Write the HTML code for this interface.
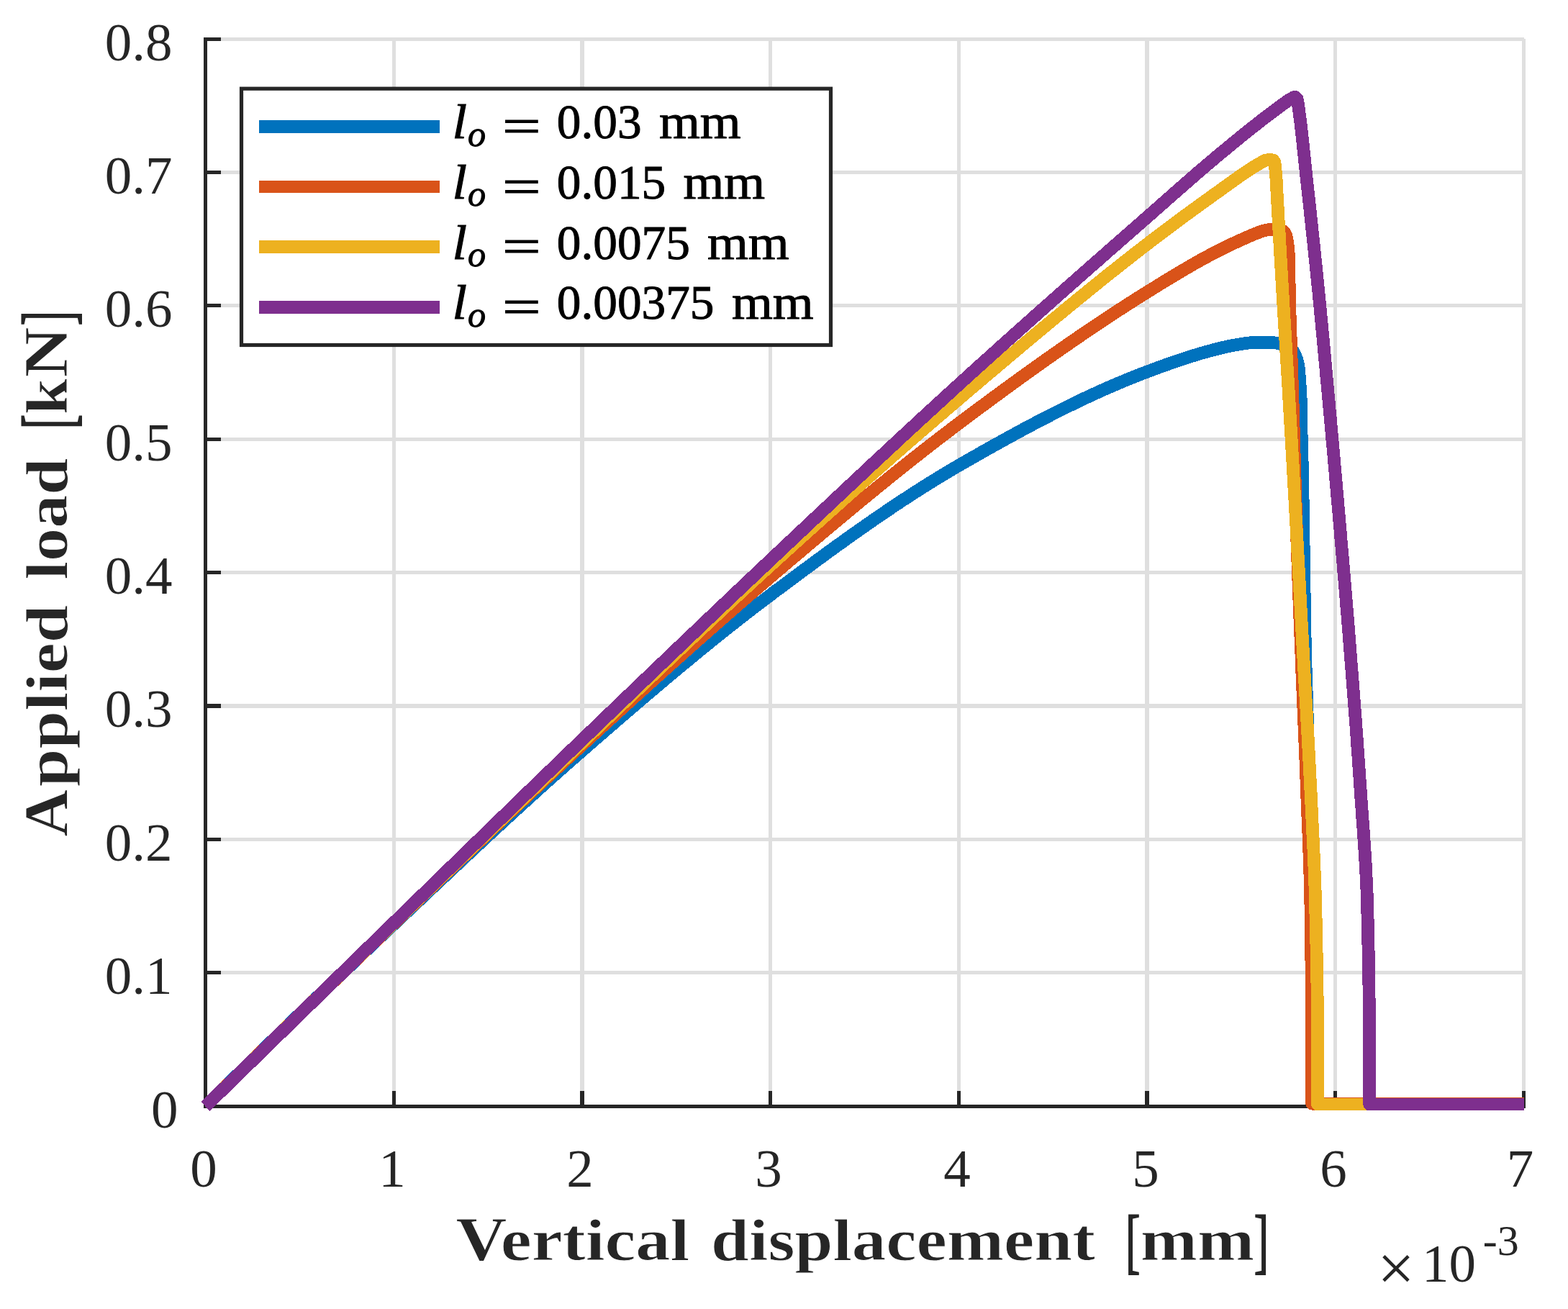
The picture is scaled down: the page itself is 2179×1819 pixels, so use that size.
<!DOCTYPE html>
<html lang="en"><head><meta charset="utf-8"><title>Applied load vs vertical displacement</title>
<style>html,body{margin:0;padding:0;background:#fff}body{width:2179px;height:1819px;overflow:hidden}svg{display:block}text{font-family:"Liberation Serif","DejaVu Serif",serif;fill:#262626;white-space:pre}.tk{font-size:75px}.lb{font-size:83.5px;font-weight:bold;stroke:#fff;stroke-width:.9px}.cap{font-size:87px}.br{font-size:98.6px;font-weight:normal;stroke:#262626;stroke-width:2px}.lg{font-size:67.3px;fill:#000;stroke:#000;stroke-width:1px}.it{font-style:italic}.sub{font-size:50px}.mul{font-size:92px}.sup{font-size:60px}</style></head><body>
<svg width="2179" height="1819" viewBox="0 0 2179 1819" role="img" aria-label="Applied load versus vertical displacement">
<rect width="2179" height="1819" fill="#fff"/>
<g fill="#dfdfdf" shape-rendering="crispEdges">
<rect x="545" y="54" width="5" height="1483"/>
<rect x="806" y="54" width="6" height="1483"/>
<rect x="1068" y="54" width="5" height="1483"/>
<rect x="1330" y="54" width="5" height="1483"/>
<rect x="1591" y="54" width="6" height="1483"/>
<rect x="1853" y="54" width="5" height="1483"/>
<rect x="2115" y="54" width="5" height="1483"/>
<rect x="286" y="1349" width="1832" height="5"/>
<rect x="286" y="1164" width="1832" height="5"/>
<rect x="286" y="978" width="1832" height="6"/>
<rect x="286" y="793" width="1832" height="5"/>
<rect x="286" y="608" width="1832" height="5"/>
<rect x="286" y="422" width="1832" height="5"/>
<rect x="286" y="237" width="1832" height="5"/>
<rect x="286" y="52" width="1832" height="5"/>
</g>
<g fill="#262626" shape-rendering="crispEdges">
<rect x="283" y="52" width="5" height="1488"/>
<rect x="283" y="1535" width="1837" height="5"/>
<rect x="545" y="1516" width="5" height="24"/>
<rect x="806" y="1516" width="6" height="24"/>
<rect x="1068" y="1516" width="5" height="24"/>
<rect x="1330" y="1516" width="5" height="24"/>
<rect x="1591" y="1516" width="6" height="24"/>
<rect x="1853" y="1516" width="5" height="24"/>
<rect x="2115" y="1516" width="5" height="24"/>
<rect x="283" y="1349" width="24" height="5"/>
<rect x="283" y="1164" width="24" height="5"/>
<rect x="283" y="978" width="24" height="6"/>
<rect x="283" y="793" width="24" height="5"/>
<rect x="283" y="608" width="24" height="5"/>
<rect x="283" y="422" width="24" height="5"/>
<rect x="283" y="237" width="24" height="5"/>
<rect x="283" y="52" width="24" height="5"/>
</g>
<g fill="none" stroke-width="17.8" stroke-linejoin="round" stroke-linecap="butt" shape-rendering="crispEdges">
<path stroke="#0072bd" d="M285.5 1537.5L289.5 1533.5L293.5 1529.6L297.5 1525.6L301.5 1521.7L305.5 1517.7L309.5 1513.8L313.5 1509.8L317.5 1505.9L321.5 1502.0L325.5 1498.0L329.5 1494.1L333.5 1490.2L337.5 1486.2L341.5 1482.3L345.5 1478.4L349.5 1474.5L353.5 1470.5L357.5 1466.6L361.5 1462.7L365.5 1458.8L369.5 1454.9L373.5 1451.0L377.5 1447.1L381.5 1443.2L385.5 1439.3L389.5 1435.4L393.5 1431.5L397.5 1427.6L401.5 1423.8L405.5 1419.9L409.5 1416.0L413.5 1412.1L417.5 1408.3L421.5 1404.4L425.5 1400.5L429.5 1396.7L433.5 1392.8L437.5 1388.9L441.5 1385.1L445.5 1381.2L449.5 1377.4L453.5 1373.5L457.5 1369.7L461.5 1365.9L465.5 1362.0L469.5 1358.2L473.5 1354.4L477.5 1350.5L481.5 1346.7L485.5 1342.9L489.5 1339.1L493.5 1335.2L497.5 1331.4L501.5 1327.6L505.5 1323.8L509.5 1320.0L513.5 1316.2L517.5 1312.4L521.5 1308.6L525.5 1304.8L529.5 1301.0L533.5 1297.2L537.5 1293.4L541.5 1289.7L545.5 1285.9L549.5 1282.1L553.5 1278.3L557.5 1274.6L561.5 1270.8L565.5 1267.0L569.5 1263.2L573.5 1259.4L577.5 1255.7L581.5 1251.9L585.5 1248.1L589.5 1244.3L593.5 1240.6L597.5 1236.8L601.5 1233.0L605.5 1229.3L609.5 1225.5L613.5 1221.7L617.5 1218.0L621.5 1214.2L625.5 1210.4L629.5 1206.7L633.5 1202.9L637.5 1199.2L641.5 1195.4L645.5 1191.7L649.5 1187.9L653.5 1184.2L657.5 1180.5L661.5 1176.7L665.5 1173.0L669.5 1169.3L673.5 1165.5L677.5 1161.8L681.5 1158.1L685.5 1154.4L689.5 1150.7L693.5 1147.0L697.5 1143.3L701.5 1139.6L705.5 1135.9L709.5 1132.3L713.5 1128.6L717.5 1124.9L721.5 1121.3L725.5 1117.6L729.5 1114.0L733.5 1110.3L737.5 1106.7L741.5 1103.1L745.5 1099.4L749.5 1095.8L753.5 1092.2L757.5 1088.6L761.5 1085.0L765.5 1081.4L769.5 1077.9L773.5 1074.3L777.5 1070.7L781.5 1067.2L785.5 1063.6L789.5 1060.1L793.5 1056.6L797.5 1053.1L801.5 1049.6L805.5 1046.1L809.5 1042.6L813.5 1039.1L817.5 1035.6L821.5 1032.1L825.5 1028.6L829.5 1025.2L833.5 1021.7L837.5 1018.2L841.5 1014.8L845.5 1011.3L849.5 1007.8L853.5 1004.4L857.5 1000.9L861.5 997.5L865.5 994.0L869.5 990.6L873.5 987.1L877.5 983.7L881.5 980.3L885.5 976.9L889.5 973.4L893.5 970.0L897.5 966.6L901.5 963.2L905.5 959.8L909.5 956.4L913.5 953.0L917.5 949.7L921.5 946.3L925.5 942.9L929.5 939.6L933.5 936.2L937.5 932.9L941.5 929.5L945.5 926.2L949.5 922.9L953.5 919.6L957.5 916.3L961.5 913.0L965.5 909.7L969.5 906.4L973.5 903.1L977.5 899.9L981.5 896.6L985.5 893.4L989.5 890.1L993.5 886.9L997.5 883.7L1001.5 880.5L1005.5 877.3L1009.5 874.1L1013.5 870.9L1017.5 867.8L1021.5 864.6L1025.5 861.5L1029.5 858.3L1033.5 855.2L1037.5 852.1L1041.5 849.0L1045.5 845.9L1049.5 842.8L1053.5 839.8L1057.5 836.7L1061.5 833.7L1065.5 830.7L1069.5 827.7L1073.5 824.6L1077.5 821.6L1081.5 818.7L1085.5 815.7L1089.5 812.7L1093.5 809.7L1097.5 806.7L1101.5 803.7L1105.5 800.7L1109.5 797.8L1113.5 794.8L1117.5 791.8L1121.5 788.9L1125.5 785.9L1129.5 783.0L1133.5 780.0L1137.5 777.1L1141.5 774.2L1145.5 771.2L1149.5 768.3L1153.5 765.4L1157.5 762.5L1161.5 759.6L1165.5 756.7L1169.5 753.9L1173.5 751.0L1177.5 748.1L1181.5 745.3L1185.5 742.4L1189.5 739.6L1193.5 736.8L1197.5 734.0L1201.5 731.2L1205.5 728.4L1209.5 725.6L1213.5 722.8L1217.5 720.1L1221.5 717.3L1225.5 714.6L1229.5 711.9L1233.5 709.2L1237.5 706.5L1241.5 703.8L1245.5 701.1L1249.5 698.5L1253.5 695.8L1257.5 693.2L1261.5 690.6L1265.5 688.0L1269.5 685.4L1273.5 682.8L1277.5 680.3L1281.5 677.7L1285.5 675.2L1289.5 672.7L1293.5 670.2L1297.5 667.7L1301.5 665.3L1305.5 662.8L1309.5 660.4L1313.5 658.0L1317.5 655.6L1321.5 653.2L1325.5 650.9L1329.5 648.5L1333.5 646.2L1337.5 643.9L1341.5 641.6L1345.5 639.3L1349.5 637.0L1353.5 634.7L1357.5 632.5L1361.5 630.2L1365.5 627.9L1369.5 625.7L1373.5 623.4L1377.5 621.2L1381.5 618.9L1385.5 616.7L1389.5 614.5L1393.5 612.3L1397.5 610.0L1401.5 607.9L1405.5 605.7L1409.5 603.5L1413.5 601.3L1417.5 599.1L1421.5 597.0L1425.5 594.8L1429.5 592.7L1433.5 590.6L1437.5 588.5L1441.5 586.4L1445.5 584.3L1449.5 582.2L1453.5 580.1L1457.5 578.1L1461.5 576.0L1465.5 574.0L1469.5 572.0L1473.5 570.0L1477.5 568.0L1481.5 566.0L1485.5 564.0L1489.5 562.1L1493.5 560.1L1497.5 558.2L1501.5 556.3L1505.5 554.4L1509.5 552.5L1513.5 550.7L1517.5 548.8L1521.5 547.0L1525.5 545.1L1529.5 543.3L1533.5 541.5L1537.5 539.8L1541.5 538.0L1545.5 536.3L1549.5 534.6L1553.5 532.8L1557.5 531.2L1561.5 529.5L1565.5 527.8L1569.5 526.2L1573.5 524.6L1577.5 523.0L1581.5 521.4L1585.5 519.8L1589.5 518.3L1593.5 516.8L1597.5 515.3L1601.5 513.8L1605.5 512.3L1609.5 510.8L1613.5 509.4L1617.5 507.9L1621.5 506.5L1625.5 505.1L1629.5 503.7L1633.5 502.3L1637.5 501.0L1641.5 499.6L1645.5 498.3L1649.5 497.0L1653.5 495.7L1657.5 494.5L1661.5 493.2L1665.5 492.0L1669.5 490.8L1673.5 489.7L1677.5 488.6L1681.5 487.5L1685.5 486.4L1689.5 485.4L1693.5 484.4L1697.5 483.4L1701.5 482.5L1705.5 481.6L1709.5 480.7L1713.5 479.9L1717.5 479.2L1721.5 478.6L1725.5 477.9L1729.5 477.3L1733.5 476.7L1737.5 476.3L1741.5 476.2L1745.5 476.2L1749.5 476.1L1753.5 476.1L1757.5 476.1L1761.5 476.1L1765.5 476.1L1769.5 476.1L1773.5 476.6L1777.5 477.4L1781.5 478.3L1785.5 479.6L1789.5 481.3L1793.5 484.3L1797.0 488.0L1799.2 492.0L1802.4 500.0L1804.3 508.0L1805.2 516.0L1805.8 524.0L1806.4 532.0L1807.0 540.0L1807.4 548.0L1807.7 556.0L1807.9 564.0L1808.1 572.0L1808.2 580.0L1808.3 588.0L1808.4 596.0L1808.6 604.0L1808.8 612.0L1809.0 620.0L1809.2 628.0L1809.4 636.0L1809.7 644.0L1809.9 652.0L1810.0 660.0L1810.2 668.0L1810.3 676.0L1810.4 684.0L1810.6 692.0L1810.7 700.0L1810.8 708.0L1810.9 716.0L1811.1 724.0L1811.2 732.0L1811.3 740.0L1811.4 748.0L1811.6 756.0L1811.7 764.0L1811.8 772.0L1811.9 780.0L1812.0 788.0L1812.2 796.0L1812.3 804.0L1812.4 812.0L1812.5 820.0L1812.7 828.0L1812.8 836.0L1812.9 844.0L1813.0 852.0L1813.2 860.0L1813.3 868.0L1813.4 876.0L1813.6 884.0L1813.7 892.0L1813.9 900.0L1814.1 908.0L1814.3 916.0L1814.5 924.0L1814.7 932.0L1815.0 940.0L1815.2 948.0L1815.5 956.0L1815.7 964.0L1816.0 972.0L1816.3 980.0L1816.5 988.0L1816.8 996.0L1817.0 1004.0L1817.2 1012.0L1817.5 1020.0L1817.7 1028.0L1817.9 1036.0L1818.1 1044.0L1818.3 1052.0L1818.6 1060.0L1818.8 1068.0L1819.0 1076.0L1819.2 1084.0L1819.4 1092.0L1819.6 1100.0L1819.8 1108.0L1820.1 1116.0L1820.3 1124.0L1820.5 1132.0L1820.7 1140.0L1820.8 1148.0L1821.0 1156.0L1821.2 1164.0L1821.4 1172.0L1821.6 1180.0L1821.8 1188.0L1821.9 1196.0L1822.1 1204.0L1822.2 1212.0L1822.4 1220.0L1822.6 1228.0L1822.7 1236.0L1822.9 1244.0L1823.1 1252.0L1823.2 1260.0L1823.4 1268.0L1823.5 1276.0L1823.7 1284.0L1823.9 1292.0L1824.0 1300.0L1824.2 1308.0L1824.3 1316.0L1824.5 1324.0L1824.6 1332.0L1824.7 1340.0L1824.9 1348.0L1825.0 1356.0L1825.1 1364.0L1825.2 1372.0L1825.4 1380.0L1825.5 1388.0L1825.6 1396.0L1825.7 1404.0L1825.7 1412.0L1825.8 1420.0L1825.9 1428.0L1826.0 1436.0L1826.0 1444.0L1826.1 1452.0L1826.1 1460.0L1826.2 1468.0L1826.2 1476.0L1826.3 1484.0L1826.3 1492.0L1826.4 1500.0L1826.4 1508.0L1826.4 1516.0L1826.5 1524.0L1826.5 1532.0L1826.5 1534.5L1900.0 1534.5"/>
<path stroke="#d95319" d="M285.5 1537.5L289.5 1533.6L293.5 1529.6L297.5 1525.7L301.5 1521.8L305.5 1517.9L309.5 1513.9L313.5 1510.0L317.5 1506.1L321.5 1502.2L325.5 1498.2L329.5 1494.3L333.5 1490.4L337.5 1486.5L341.5 1482.6L345.5 1478.7L349.5 1474.8L353.5 1470.9L357.5 1466.9L361.5 1463.0L365.5 1459.1L369.5 1455.2L373.5 1451.3L377.5 1447.4L381.5 1443.5L385.5 1439.6L389.5 1435.7L393.5 1431.8L397.5 1428.0L401.5 1424.1L405.5 1420.2L409.5 1416.3L413.5 1412.4L417.5 1408.5L421.5 1404.6L425.5 1400.7L429.5 1396.9L433.5 1393.0L437.5 1389.1L441.5 1385.2L445.5 1381.3L449.5 1377.5L453.5 1373.6L457.5 1369.7L461.5 1365.9L465.5 1362.0L469.5 1358.1L473.5 1354.3L477.5 1350.4L481.5 1346.5L485.5 1342.7L489.5 1338.8L493.5 1334.9L497.5 1331.1L501.5 1327.2L505.5 1323.4L509.5 1319.5L513.5 1315.7L517.5 1311.8L521.5 1308.0L525.5 1304.1L529.5 1300.3L533.5 1296.4L537.5 1292.6L541.5 1288.8L545.5 1284.9L549.5 1281.1L553.5 1277.2L557.5 1273.4L561.5 1269.6L565.5 1265.7L569.5 1261.9L573.5 1258.0L577.5 1254.2L581.5 1250.4L585.5 1246.5L589.5 1242.7L593.5 1238.8L597.5 1235.0L601.5 1231.2L605.5 1227.3L609.5 1223.5L613.5 1219.6L617.5 1215.8L621.5 1212.0L625.5 1208.1L629.5 1204.3L633.5 1200.5L637.5 1196.6L641.5 1192.8L645.5 1189.0L649.5 1185.2L653.5 1181.3L657.5 1177.5L661.5 1173.7L665.5 1169.9L669.5 1166.1L673.5 1162.3L677.5 1158.4L681.5 1154.6L685.5 1150.8L689.5 1147.0L693.5 1143.2L697.5 1139.4L701.5 1135.6L705.5 1131.8L709.5 1128.0L713.5 1124.3L717.5 1120.5L721.5 1116.7L725.5 1112.9L729.5 1109.2L733.5 1105.4L737.5 1101.6L741.5 1097.9L745.5 1094.1L749.5 1090.4L753.5 1086.6L757.5 1082.9L761.5 1079.1L765.5 1075.4L769.5 1071.7L773.5 1067.9L777.5 1064.2L781.5 1060.5L785.5 1056.8L789.5 1053.1L793.5 1049.4L797.5 1045.7L801.5 1042.0L805.5 1038.3L809.5 1034.6L813.5 1031.0L817.5 1027.3L821.5 1023.6L825.5 1020.0L829.5 1016.3L833.5 1012.6L837.5 1009.0L841.5 1005.3L845.5 1001.6L849.5 998.0L853.5 994.3L857.5 990.7L861.5 987.0L865.5 983.4L869.5 979.7L873.5 976.1L877.5 972.5L881.5 968.8L885.5 965.2L889.5 961.6L893.5 958.0L897.5 954.3L901.5 950.7L905.5 947.1L909.5 943.5L913.5 939.9L917.5 936.3L921.5 932.7L925.5 929.1L929.5 925.5L933.5 921.9L937.5 918.3L941.5 914.7L945.5 911.2L949.5 907.6L953.5 904.0L957.5 900.5L961.5 896.9L965.5 893.3L969.5 889.8L973.5 886.3L977.5 882.7L981.5 879.2L985.5 875.6L989.5 872.1L993.5 868.6L997.5 865.1L1001.5 861.6L1005.5 858.1L1009.5 854.6L1013.5 851.1L1017.5 847.6L1021.5 844.1L1025.5 840.6L1029.5 837.2L1033.5 833.7L1037.5 830.2L1041.5 826.8L1045.5 823.3L1049.5 819.9L1053.5 816.4L1057.5 813.0L1061.5 809.6L1065.5 806.2L1069.5 802.8L1073.5 799.3L1077.5 795.9L1081.5 792.5L1085.5 789.1L1089.5 785.7L1093.5 782.3L1097.5 778.9L1101.5 775.5L1105.5 772.1L1109.5 768.8L1113.5 765.4L1117.5 762.0L1121.5 758.6L1125.5 755.2L1129.5 751.8L1133.5 748.5L1137.5 745.1L1141.5 741.7L1145.5 738.4L1149.5 735.0L1153.5 731.7L1157.5 728.3L1161.5 725.0L1165.5 721.6L1169.5 718.3L1173.5 715.0L1177.5 711.7L1181.5 708.3L1185.5 705.0L1189.5 701.7L1193.5 698.4L1197.5 695.1L1201.5 691.8L1205.5 688.5L1209.5 685.3L1213.5 682.0L1217.5 678.7L1221.5 675.5L1225.5 672.2L1229.5 669.0L1233.5 665.7L1237.5 662.5L1241.5 659.3L1245.5 656.1L1249.5 652.8L1253.5 649.6L1257.5 646.5L1261.5 643.3L1265.5 640.1L1269.5 636.9L1273.5 633.8L1277.5 630.6L1281.5 627.5L1285.5 624.3L1289.5 621.2L1293.5 618.1L1297.5 615.0L1301.5 611.9L1305.5 608.8L1309.5 605.8L1313.5 602.7L1317.5 599.7L1321.5 596.6L1325.5 593.6L1329.5 590.6L1333.5 587.5L1337.5 584.5L1341.5 581.5L1345.5 578.6L1349.5 575.6L1353.5 572.6L1357.5 569.6L1361.5 566.6L1365.5 563.7L1369.5 560.7L1373.5 557.7L1377.5 554.8L1381.5 551.8L1385.5 548.9L1389.5 545.9L1393.5 543.0L1397.5 540.1L1401.5 537.2L1405.5 534.3L1409.5 531.4L1413.5 528.5L1417.5 525.6L1421.5 522.7L1425.5 519.8L1429.5 516.9L1433.5 514.1L1437.5 511.2L1441.5 508.3L1445.5 505.5L1449.5 502.7L1453.5 499.8L1457.5 497.0L1461.5 494.2L1465.5 491.4L1469.5 488.6L1473.5 485.8L1477.5 483.0L1481.5 480.2L1485.5 477.5L1489.5 474.7L1493.5 472.0L1497.5 469.2L1501.5 466.5L1505.5 463.8L1509.5 461.0L1513.5 458.3L1517.5 455.6L1521.5 453.0L1525.5 450.3L1529.5 447.6L1533.5 445.0L1537.5 442.3L1541.5 439.7L1545.5 437.0L1549.5 434.4L1553.5 431.8L1557.5 429.2L1561.5 426.6L1565.5 424.0L1569.5 421.5L1573.5 418.9L1577.5 416.4L1581.5 413.8L1585.5 411.3L1589.5 408.8L1593.5 406.3L1597.5 403.8L1601.5 401.3L1605.5 398.9L1609.5 396.4L1613.5 393.9L1617.5 391.5L1621.5 389.0L1625.5 386.6L1629.5 384.2L1633.5 381.8L1637.5 379.4L1641.5 377.0L1645.5 374.7L1649.5 372.3L1653.5 370.0L1657.5 367.7L1661.5 365.4L1665.5 363.2L1669.5 360.9L1673.5 358.7L1677.5 356.6L1681.5 354.4L1685.5 352.3L1689.5 350.2L1693.5 348.1L1697.5 346.1L1701.5 344.1L1705.5 342.1L1709.5 340.2L1713.5 338.4L1717.5 336.6L1721.5 334.8L1725.5 333.0L1729.5 331.2L1733.5 329.4L1737.5 327.6L1741.5 325.9L1745.5 324.3L1749.5 322.8L1753.5 321.4L1757.5 320.2L1761.5 319.4L1765.5 318.8L1769.5 318.6L1773.5 318.6L1777.5 318.7L1781.5 320.0L1785.5 323.7L1785.9 324.6L1787.0 327.0L1788.5 333.0L1789.4 339.0L1790.1 345.0L1790.6 351.0L1791.0 357.0L1791.2 363.0L1791.3 369.0L1791.4 375.0L1791.4 381.0L1791.5 387.0L1791.6 393.0L1791.7 399.0L1791.8 405.0L1791.9 411.0L1792.1 417.0L1792.2 423.0L1792.4 429.0L1792.5 435.0L1792.7 441.0L1792.9 447.0L1793.1 453.0L1793.3 459.0L1793.5 465.0L1793.7 471.0L1793.9 477.0L1794.1 483.0L1794.3 489.0L1794.5 495.0L1794.7 501.0L1794.9 507.0L1795.1 513.0L1795.3 519.0L1795.5 525.0L1795.7 531.0L1795.9 537.0L1796.1 543.0L1796.3 549.0L1796.4 555.0L1796.6 561.0L1796.8 567.0L1797.0 573.0L1797.1 579.0L1797.3 585.0L1797.5 591.0L1797.7 597.0L1797.8 603.0L1798.0 609.0L1798.2 615.0L1798.3 621.0L1798.5 627.0L1798.7 633.0L1798.8 639.0L1799.0 645.0L1799.2 651.0L1799.4 657.0L1799.5 663.0L1799.7 669.0L1799.9 675.0L1800.1 681.0L1800.3 687.0L1800.4 693.0L1800.6 699.0L1800.8 705.0L1801.0 711.0L1801.2 717.0L1801.4 723.0L1801.6 729.0L1801.8 735.0L1802.0 741.0L1802.2 747.0L1802.4 753.0L1802.6 759.0L1802.9 765.0L1803.1 771.0L1803.3 777.0L1803.5 783.0L1803.7 789.0L1804.0 795.0L1804.2 801.0L1804.4 807.0L1804.6 813.0L1804.9 819.0L1805.1 825.0L1805.3 831.0L1805.6 837.0L1805.8 843.0L1806.0 849.0L1806.2 855.0L1806.5 861.0L1806.7 867.0L1806.9 873.0L1807.2 879.0L1807.4 885.0L1807.7 891.0L1807.9 897.0L1808.1 903.0L1808.4 909.0L1808.6 915.0L1808.8 921.0L1809.1 927.0L1809.3 933.0L1809.6 939.0L1809.8 945.0L1810.1 951.0L1810.3 957.0L1810.6 963.0L1810.8 969.0L1811.1 975.0L1811.3 981.0L1811.6 987.0L1811.8 993.0L1812.1 999.0L1812.3 1005.0L1812.6 1011.0L1812.8 1017.0L1813.1 1023.0L1813.3 1029.0L1813.6 1035.0L1813.8 1041.0L1814.0 1047.0L1814.3 1053.0L1814.5 1059.0L1814.7 1065.0L1815.0 1071.0L1815.2 1077.0L1815.4 1083.0L1815.6 1089.0L1815.9 1095.0L1816.1 1101.0L1816.3 1107.0L1816.6 1113.0L1816.8 1119.0L1817.1 1125.0L1817.3 1131.0L1817.5 1137.0L1817.8 1143.0L1818.0 1149.0L1818.3 1155.0L1818.5 1161.0L1818.7 1167.0L1819.0 1173.0L1819.2 1179.0L1819.4 1185.0L1819.6 1191.0L1819.8 1197.0L1820.0 1203.0L1820.2 1209.0L1820.4 1215.0L1820.6 1221.0L1820.7 1227.0L1820.9 1233.0L1821.0 1239.0L1821.1 1245.0L1821.3 1251.0L1821.4 1257.0L1821.4 1263.0L1821.5 1269.0L1821.6 1275.0L1821.7 1281.0L1821.8 1287.0L1821.9 1293.0L1821.9 1299.0L1822.0 1305.0L1822.1 1311.0L1822.2 1317.0L1822.2 1323.0L1822.3 1329.0L1822.4 1335.0L1822.4 1341.0L1822.5 1347.0L1822.6 1353.0L1822.6 1359.0L1822.7 1365.0L1822.7 1371.0L1822.8 1377.0L1822.8 1383.0L1822.9 1389.0L1822.9 1395.0L1823.0 1401.0L1823.0 1407.0L1823.0 1413.0L1823.0 1419.0L1823.1 1425.0L1823.1 1431.0L1823.1 1437.0L1823.1 1443.0L1823.1 1449.0L1823.1 1455.0L1823.1 1461.0L1823.1 1467.0L1823.2 1473.0L1823.2 1479.0L1823.2 1485.0L1823.2 1491.0L1823.2 1497.0L1823.2 1503.0L1823.2 1509.0L1823.2 1515.0L1823.2 1521.0L1823.2 1527.0L1823.2 1533.0L1823.2 1533.7L2117.5 1533.7"/>
<path stroke="#edb120" d="M285.5 1537.5L289.5 1533.6L293.5 1529.7L297.5 1525.7L301.5 1521.8L305.5 1517.9L309.5 1514.0L313.5 1510.1L317.5 1506.2L321.5 1502.2L325.5 1498.3L329.5 1494.4L333.5 1490.5L337.5 1486.6L341.5 1482.7L345.5 1478.8L349.5 1474.9L353.5 1471.0L357.5 1467.1L361.5 1463.1L365.5 1459.2L369.5 1455.3L373.5 1451.4L377.5 1447.5L381.5 1443.6L385.5 1439.7L389.5 1435.8L393.5 1431.9L397.5 1428.0L401.5 1424.1L405.5 1420.2L409.5 1416.3L413.5 1412.5L417.5 1408.6L421.5 1404.7L425.5 1400.8L429.5 1396.9L433.5 1393.0L437.5 1389.1L441.5 1385.2L445.5 1381.3L449.5 1377.4L453.5 1373.6L457.5 1369.7L461.5 1365.8L465.5 1361.9L469.5 1358.0L473.5 1354.1L477.5 1350.3L481.5 1346.4L485.5 1342.5L489.5 1338.6L493.5 1334.8L497.5 1330.9L501.5 1327.0L505.5 1323.1L509.5 1319.3L513.5 1315.4L517.5 1311.5L521.5 1307.6L525.5 1303.8L529.5 1299.9L533.5 1296.0L537.5 1292.2L541.5 1288.3L545.5 1284.4L549.5 1280.6L553.5 1276.7L557.5 1272.8L561.5 1269.0L565.5 1265.1L569.5 1261.3L573.5 1257.4L577.5 1253.5L581.5 1249.7L585.5 1245.8L589.5 1242.0L593.5 1238.1L597.5 1234.2L601.5 1230.4L605.5 1226.5L609.5 1222.7L613.5 1218.8L617.5 1215.0L621.5 1211.1L625.5 1207.3L629.5 1203.4L633.5 1199.6L637.5 1195.7L641.5 1191.9L645.5 1188.0L649.5 1184.2L653.5 1180.3L657.5 1176.5L661.5 1172.6L665.5 1168.8L669.5 1165.0L673.5 1161.1L677.5 1157.3L681.5 1153.4L685.5 1149.6L689.5 1145.8L693.5 1141.9L697.5 1138.1L701.5 1134.3L705.5 1130.4L709.5 1126.6L713.5 1122.8L717.5 1119.0L721.5 1115.1L725.5 1111.3L729.5 1107.5L733.5 1103.6L737.5 1099.8L741.5 1096.0L745.5 1092.2L749.5 1088.4L753.5 1084.5L757.5 1080.7L761.5 1076.9L765.5 1073.1L769.5 1069.3L773.5 1065.5L777.5 1061.7L781.5 1057.9L785.5 1054.0L789.5 1050.2L793.5 1046.4L797.5 1042.6L801.5 1038.8L805.5 1035.0L809.5 1031.2L813.5 1027.4L817.5 1023.6L821.5 1019.8L825.5 1016.0L829.5 1012.2L833.5 1008.4L837.5 1004.6L841.5 1000.8L845.5 997.0L849.5 993.2L853.5 989.4L857.5 985.6L861.5 981.8L865.5 977.9L869.5 974.1L873.5 970.3L877.5 966.5L881.5 962.7L885.5 958.9L889.5 955.1L893.5 951.3L897.5 947.5L901.5 943.7L905.5 939.9L909.5 936.1L913.5 932.3L917.5 928.5L921.5 924.7L925.5 920.9L929.5 917.1L933.5 913.3L937.5 909.6L941.5 905.8L945.5 902.0L949.5 898.2L953.5 894.4L957.5 890.7L961.5 886.9L965.5 883.1L969.5 879.4L973.5 875.6L977.5 871.8L981.5 868.1L985.5 864.3L989.5 860.6L993.5 856.8L997.5 853.1L1001.5 849.4L1005.5 845.6L1009.5 841.9L1013.5 838.2L1017.5 834.5L1021.5 830.8L1025.5 827.1L1029.5 823.4L1033.5 819.7L1037.5 816.0L1041.5 812.3L1045.5 808.6L1049.5 804.9L1053.5 801.2L1057.5 797.6L1061.5 793.9L1065.5 790.3L1069.5 786.6L1073.5 783.0L1077.5 779.3L1081.5 775.7L1085.5 772.1L1089.5 768.4L1093.5 764.8L1097.5 761.2L1101.5 757.6L1105.5 753.9L1109.5 750.3L1113.5 746.7L1117.5 743.1L1121.5 739.5L1125.5 735.9L1129.5 732.3L1133.5 728.7L1137.5 725.1L1141.5 721.5L1145.5 717.9L1149.5 714.4L1153.5 710.8L1157.5 707.2L1161.5 703.6L1165.5 700.1L1169.5 696.5L1173.5 692.9L1177.5 689.4L1181.5 685.8L1185.5 682.3L1189.5 678.7L1193.5 675.2L1197.5 671.6L1201.5 668.1L1205.5 664.6L1209.5 661.0L1213.5 657.5L1217.5 654.0L1221.5 650.5L1225.5 647.0L1229.5 643.5L1233.5 640.0L1237.5 636.4L1241.5 632.9L1245.5 629.5L1249.5 626.0L1253.5 622.5L1257.5 619.0L1261.5 615.5L1265.5 612.0L1269.5 608.6L1273.5 605.1L1277.5 601.6L1281.5 598.2L1285.5 594.7L1289.5 591.3L1293.5 587.8L1297.5 584.4L1301.5 580.9L1305.5 577.5L1309.5 574.1L1313.5 570.6L1317.5 567.2L1321.5 563.8L1325.5 560.4L1329.5 557.0L1333.5 553.5L1337.5 550.1L1341.5 546.7L1345.5 543.3L1349.5 539.9L1353.5 536.5L1357.5 533.1L1361.5 529.7L1365.5 526.3L1369.5 522.9L1373.5 519.6L1377.5 516.2L1381.5 512.8L1385.5 509.4L1389.5 506.0L1393.5 502.6L1397.5 499.3L1401.5 495.9L1405.5 492.5L1409.5 489.1L1413.5 485.8L1417.5 482.4L1421.5 479.1L1425.5 475.7L1429.5 472.3L1433.5 469.0L1437.5 465.7L1441.5 462.3L1445.5 459.0L1449.5 455.7L1453.5 452.3L1457.5 449.0L1461.5 445.7L1465.5 442.4L1469.5 439.1L1473.5 435.8L1477.5 432.5L1481.5 429.2L1485.5 425.9L1489.5 422.6L1493.5 419.3L1497.5 416.1L1501.5 412.8L1505.5 409.6L1509.5 406.3L1513.5 403.1L1517.5 399.8L1521.5 396.6L1525.5 393.4L1529.5 390.1L1533.5 386.9L1537.5 383.7L1541.5 380.5L1545.5 377.3L1549.5 374.2L1553.5 371.0L1557.5 367.8L1561.5 364.7L1565.5 361.5L1569.5 358.4L1573.5 355.2L1577.5 352.1L1581.5 349.0L1585.5 345.9L1589.5 342.8L1593.5 339.7L1597.5 336.6L1601.5 333.5L1605.5 330.5L1609.5 327.4L1613.5 324.4L1617.5 321.4L1621.5 318.4L1625.5 315.4L1629.5 312.4L1633.5 309.4L1637.5 306.5L1641.5 303.5L1645.5 300.6L1649.5 297.7L1653.5 294.7L1657.5 291.8L1661.5 288.9L1665.5 286.0L1669.5 283.1L1673.5 280.2L1677.5 277.3L1681.5 274.5L1685.5 271.6L1689.5 268.7L1693.5 265.9L1697.5 263.0L1701.5 260.1L1705.5 257.2L1709.5 254.3L1713.5 251.5L1717.5 248.6L1721.5 245.8L1725.5 243.0L1729.5 240.3L1733.5 237.6L1737.5 235.0L1741.5 232.5L1745.5 230.0L1749.5 227.7L1753.5 225.3L1757.5 223.1L1761.5 222.2L1765.5 221.9L1769.5 222.6L1771.3 225.5L1772.1 231.5L1772.6 237.5L1773.1 243.5L1773.6 249.5L1773.9 255.5L1774.2 261.5L1774.5 267.5L1774.9 273.5L1775.2 279.5L1775.5 285.5L1775.9 291.5L1776.2 297.5L1776.5 303.5L1776.8 309.5L1777.2 315.5L1777.5 321.5L1777.9 327.5L1778.2 333.5L1778.5 339.5L1778.9 345.5L1779.2 351.5L1779.5 357.5L1779.9 363.5L1780.2 369.5L1780.6 375.5L1780.9 381.5L1781.3 387.5L1781.6 393.5L1782.0 399.5L1782.3 405.5L1782.7 411.5L1783.0 417.5L1783.4 423.5L1783.8 429.5L1784.1 435.5L1784.5 441.5L1784.9 447.5L1785.2 453.5L1785.6 459.5L1786.0 465.5L1786.3 471.5L1786.7 477.5L1787.1 483.5L1787.4 489.5L1787.8 495.5L1788.2 501.5L1788.5 507.5L1788.9 513.5L1789.3 519.5L1789.6 525.5L1790.0 531.5L1790.4 537.5L1790.7 543.5L1791.1 549.5L1791.4 555.5L1791.8 561.5L1792.1 567.5L1792.5 573.5L1792.8 579.5L1793.2 585.5L1793.5 591.5L1793.9 597.5L1794.2 603.5L1794.6 609.5L1794.9 615.5L1795.2 621.5L1795.6 627.5L1795.9 633.5L1796.3 639.5L1796.6 645.5L1796.9 651.5L1797.3 657.5L1797.6 663.5L1798.0 669.5L1798.3 675.5L1798.6 681.5L1799.0 687.5L1799.3 693.5L1799.7 699.5L1800.0 705.5L1800.3 711.5L1800.7 717.5L1801.0 723.5L1801.3 729.5L1801.7 735.5L1802.0 741.5L1802.3 747.5L1802.7 753.5L1803.0 759.5L1803.3 765.5L1803.6 771.5L1804.0 777.5L1804.3 783.5L1804.6 789.5L1804.9 795.5L1805.3 801.5L1805.6 807.5L1805.9 813.5L1806.2 819.5L1806.6 825.5L1806.9 831.5L1807.2 837.5L1807.5 843.5L1807.9 849.5L1808.2 855.5L1808.5 861.5L1808.8 867.5L1809.2 873.5L1809.5 879.5L1809.8 885.5L1810.1 891.5L1810.5 897.5L1810.8 903.5L1811.1 909.5L1811.5 915.5L1811.8 921.5L1812.1 927.5L1812.5 933.5L1812.8 939.5L1813.2 945.5L1813.5 951.5L1813.8 957.5L1814.2 963.5L1814.5 969.5L1814.9 975.5L1815.2 981.5L1815.6 987.5L1815.9 993.5L1816.2 999.5L1816.6 1005.5L1816.9 1011.5L1817.2 1017.5L1817.6 1023.5L1817.9 1029.5L1818.2 1035.5L1818.5 1041.5L1818.9 1047.5L1819.2 1053.5L1819.5 1059.5L1819.8 1065.5L1820.1 1071.5L1820.4 1077.5L1820.7 1083.5L1821.0 1089.5L1821.3 1095.5L1821.6 1101.5L1821.9 1107.5L1822.2 1113.5L1822.5 1119.5L1822.8 1125.5L1823.1 1131.5L1823.4 1137.5L1823.6 1143.5L1823.9 1149.5L1824.2 1155.5L1824.5 1161.5L1824.8 1167.5L1825.1 1173.5L1825.4 1179.5L1825.6 1185.5L1825.9 1191.5L1826.1 1197.5L1826.4 1203.5L1826.6 1209.5L1826.8 1215.5L1827.1 1221.5L1827.3 1227.5L1827.5 1233.5L1827.7 1239.5L1827.8 1245.5L1828.0 1251.5L1828.1 1257.5L1828.3 1263.5L1828.4 1269.5L1828.6 1275.5L1828.7 1281.5L1828.8 1287.5L1829.0 1293.5L1829.1 1299.5L1829.2 1305.5L1829.4 1311.5L1829.5 1317.5L1829.6 1323.5L1829.7 1329.5L1829.8 1335.5L1830.0 1341.5L1830.1 1347.5L1830.2 1353.5L1830.3 1359.5L1830.4 1365.5L1830.5 1371.5L1830.5 1377.5L1830.6 1383.5L1830.7 1389.5L1830.8 1395.5L1830.8 1401.5L1830.9 1407.5L1830.9 1413.5L1830.9 1419.5L1831.0 1425.5L1831.0 1431.5L1831.0 1437.5L1831.0 1443.5L1831.0 1449.5L1831.0 1455.5L1831.0 1461.5L1831.0 1467.5L1831.0 1473.5L1831.0 1479.5L1831.0 1485.5L1831.0 1491.5L1831.0 1497.5L1831.0 1503.5L1831.0 1509.5L1831.0 1515.5L1831.0 1521.5L1831.0 1527.5L1831.0 1533.5L1831.0 1534.5L2117.5 1534.5"/>
<path stroke="#7e2f8e" d="M285.5 1537.5L291.5 1531.6L297.5 1525.8L303.5 1519.9L309.5 1514.0L315.5 1508.2L321.5 1502.3L327.5 1496.5L333.5 1490.6L339.5 1484.7L345.5 1478.9L351.5 1473.0L357.5 1467.2L363.5 1461.3L369.5 1455.5L375.5 1449.6L381.5 1443.8L387.5 1437.9L393.5 1432.0L399.5 1426.2L405.5 1420.3L411.5 1414.5L417.5 1408.6L423.5 1402.8L429.5 1396.9L435.5 1391.1L441.5 1385.2L447.5 1379.4L453.5 1373.5L459.5 1367.7L465.5 1361.8L471.5 1356.0L477.5 1350.2L483.5 1344.3L489.5 1338.5L495.5 1332.6L501.5 1326.8L507.5 1320.9L513.5 1315.1L519.5 1309.3L525.5 1303.4L531.5 1297.6L537.5 1291.7L543.5 1285.9L549.5 1280.1L555.5 1274.2L561.5 1268.4L567.5 1262.5L573.5 1256.7L579.5 1250.8L585.5 1245.0L591.5 1239.2L597.5 1233.3L603.5 1227.5L609.5 1221.6L615.5 1215.8L621.5 1209.9L627.5 1204.1L633.5 1198.3L639.5 1192.4L645.5 1186.6L651.5 1180.7L657.5 1174.9L663.5 1169.1L669.5 1163.2L675.5 1157.4L681.5 1151.5L687.5 1145.7L693.5 1139.9L699.5 1134.1L705.5 1128.2L711.5 1122.4L717.5 1116.6L723.5 1110.8L729.5 1104.9L735.5 1099.1L741.5 1093.3L747.5 1087.5L753.5 1081.7L759.5 1075.9L765.5 1070.1L771.5 1064.3L777.5 1058.5L783.5 1052.7L789.5 1046.9L795.5 1041.1L801.5 1035.3L807.5 1029.5L813.5 1023.8L819.5 1018.0L825.5 1012.2L831.5 1006.5L837.5 1000.7L843.5 994.9L849.5 989.1L855.5 983.4L861.5 977.6L867.5 971.9L873.5 966.1L879.5 960.3L885.5 954.6L891.5 948.8L897.5 943.1L903.5 937.3L909.5 931.6L915.5 925.8L921.5 920.1L927.5 914.4L933.5 908.6L939.5 902.9L945.5 897.2L951.5 891.4L957.5 885.7L963.5 880.0L969.5 874.3L975.5 868.6L981.5 862.8L987.5 857.1L993.5 851.4L999.5 845.7L1005.5 840.0L1011.5 834.3L1017.5 828.6L1023.5 822.9L1029.5 817.3L1035.5 811.6L1041.5 805.9L1047.5 800.2L1053.5 794.5L1059.5 788.9L1065.5 783.2L1071.5 777.6L1077.5 771.9L1083.5 766.2L1089.5 760.6L1095.5 754.9L1101.5 749.3L1107.5 743.6L1113.5 738.0L1119.5 732.3L1125.5 726.7L1131.5 721.0L1137.5 715.4L1143.5 709.7L1149.5 704.1L1155.5 698.4L1161.5 692.8L1167.5 687.2L1173.5 681.5L1179.5 675.9L1185.5 670.3L1191.5 664.7L1197.5 659.1L1203.5 653.4L1209.5 647.8L1215.5 642.2L1221.5 636.6L1227.5 631.1L1233.5 625.5L1239.5 619.9L1245.5 614.3L1251.5 608.7L1257.5 603.2L1263.5 597.6L1269.5 592.1L1275.5 586.5L1281.5 581.0L1287.5 575.5L1293.5 570.0L1299.5 564.5L1305.5 559.0L1311.5 553.5L1317.5 548.0L1323.5 542.5L1329.5 537.0L1335.5 531.6L1341.5 526.1L1347.5 520.7L1353.5 515.2L1359.5 509.8L1365.5 504.4L1371.5 499.0L1377.5 493.6L1383.5 488.2L1389.5 482.8L1395.5 477.4L1401.5 472.0L1407.5 466.6L1413.5 461.3L1419.5 455.9L1425.5 450.6L1431.5 445.2L1437.5 439.9L1443.5 434.5L1449.5 429.2L1455.5 423.9L1461.5 418.6L1467.5 413.2L1473.5 407.9L1479.5 402.6L1485.5 397.3L1491.5 392.0L1497.5 386.7L1503.5 381.4L1509.5 376.1L1515.5 370.8L1521.5 365.6L1527.5 360.3L1533.5 355.0L1539.5 349.7L1545.5 344.4L1551.5 339.2L1557.5 333.9L1563.5 328.6L1569.5 323.4L1575.5 318.1L1581.5 312.9L1587.5 307.6L1593.5 302.3L1599.5 297.1L1605.5 291.8L1611.5 286.5L1617.5 281.2L1623.5 275.9L1629.5 270.6L1635.5 265.3L1641.5 260.1L1647.5 254.8L1653.5 249.6L1659.5 244.3L1665.5 239.1L1671.5 234.0L1677.5 228.8L1683.5 223.8L1689.5 218.7L1695.5 213.7L1701.5 208.8L1707.5 203.8L1713.5 198.9L1719.5 194.0L1725.5 189.1L1731.5 184.3L1737.5 179.5L1743.5 174.7L1749.5 170.0L1755.5 165.3L1761.5 160.7L1767.5 156.2L1773.5 151.7L1779.5 147.3L1785.5 142.9L1791.5 138.6L1797.5 135.4L1799.5 134.7L1802.5 137.0L1804.0 145.0L1805.1 153.0L1806.1 161.0L1807.2 169.0L1808.1 177.0L1809.0 185.0L1809.9 193.0L1810.8 201.0L1811.6 209.0L1812.5 217.0L1813.3 225.0L1814.1 233.0L1815.0 241.0L1815.8 249.0L1816.7 257.0L1817.6 265.0L1818.5 273.0L1819.3 281.0L1820.2 289.0L1821.1 297.0L1821.9 305.0L1822.8 313.0L1823.6 321.0L1824.5 329.0L1825.3 337.0L1826.2 345.0L1827.0 353.0L1827.8 361.0L1828.7 369.0L1829.5 377.0L1830.3 385.0L1831.1 393.0L1831.9 401.0L1832.7 409.0L1833.5 417.0L1834.3 425.0L1835.0 433.0L1835.8 441.0L1836.6 449.0L1837.3 457.0L1838.1 465.0L1838.8 473.0L1839.6 481.0L1840.3 489.0L1841.0 497.0L1841.8 505.0L1842.5 513.0L1843.2 521.0L1844.0 529.0L1844.7 537.0L1845.4 545.0L1846.2 553.0L1846.9 561.0L1847.6 569.0L1848.4 577.0L1849.1 585.0L1849.8 593.0L1850.5 601.0L1851.2 609.0L1852.0 617.0L1852.7 625.0L1853.4 633.0L1854.1 641.0L1854.8 649.0L1855.5 657.0L1856.2 665.0L1856.9 673.0L1857.6 681.0L1858.3 689.0L1859.0 697.0L1859.7 705.0L1860.4 713.0L1861.1 721.0L1861.8 729.0L1862.5 737.0L1863.1 745.0L1863.8 753.0L1864.5 761.0L1865.2 769.0L1865.9 777.0L1866.6 785.0L1867.2 793.0L1867.9 801.0L1868.6 809.0L1869.3 817.0L1869.9 825.0L1870.6 833.0L1871.2 841.0L1871.9 849.0L1872.6 857.0L1873.2 865.0L1873.9 873.0L1874.5 881.0L1875.1 889.0L1875.8 897.0L1876.4 905.0L1877.0 913.0L1877.6 921.0L1878.3 929.0L1878.9 937.0L1879.5 945.0L1880.1 953.0L1880.8 961.0L1881.4 969.0L1882.0 977.0L1882.6 985.0L1883.2 993.0L1883.8 1001.0L1884.4 1009.0L1885.0 1017.0L1885.6 1025.0L1886.1 1033.0L1886.7 1041.0L1887.3 1049.0L1887.8 1057.0L1888.4 1065.0L1888.9 1073.0L1889.5 1081.0L1890.0 1089.0L1890.6 1097.0L1891.1 1105.0L1891.7 1113.0L1892.3 1121.0L1892.8 1129.0L1893.4 1137.0L1894.0 1145.0L1894.6 1153.0L1895.1 1161.0L1895.7 1169.0L1896.2 1177.0L1896.7 1185.0L1897.2 1193.0L1897.7 1201.0L1898.1 1209.0L1898.5 1217.0L1898.9 1225.0L1899.3 1233.0L1899.6 1241.0L1899.9 1249.0L1900.1 1257.0L1900.3 1265.0L1900.5 1273.0L1900.7 1281.0L1900.9 1289.0L1901.1 1297.0L1901.3 1305.0L1901.4 1313.0L1901.6 1321.0L1901.8 1329.0L1901.9 1337.0L1902.0 1345.0L1902.2 1353.0L1902.3 1361.0L1902.4 1369.0L1902.5 1377.0L1902.6 1385.0L1902.7 1393.0L1902.8 1401.0L1902.9 1409.0L1902.9 1417.0L1903.0 1425.0L1903.0 1433.0L1903.0 1441.0L1903.0 1449.0L1903.0 1457.0L1903.0 1465.0L1903.0 1473.0L1903.0 1481.0L1903.0 1489.0L1903.0 1497.0L1903.0 1505.0L1903.0 1513.0L1903.0 1521.0L1903.0 1529.0L1903.1 1534.5L2118.0 1534.5"/>
</g>
<g class="tk">
<text x="247.5" y="1567.3" text-anchor="end">0</text>
<text x="239.5" y="1381.3" text-anchor="end">0.1</text>
<text x="239.5" y="1196.3" text-anchor="end">0.2</text>
<text x="239.5" y="1010.3" text-anchor="end">0.3</text>
<text x="239.5" y="825.3" text-anchor="end">0.4</text>
<text x="239.5" y="640.3" text-anchor="end">0.5</text>
<text x="239.5" y="454.3" text-anchor="end">0.6</text>
<text x="239.5" y="269.3" text-anchor="end">0.7</text>
<text x="239.5" y="84.3" text-anchor="end">0.8</text>
<text x="283" y="1649.3" text-anchor="middle">0</text>
<text x="545.0" y="1649.3" text-anchor="middle">1</text>
<text x="806.0" y="1649.3" text-anchor="middle">2</text>
<text x="1068.0" y="1649.3" text-anchor="middle">3</text>
<text x="1330.0" y="1649.3" text-anchor="middle">4</text>
<text x="1592.0" y="1649.3" text-anchor="middle">5</text>
<text x="1853.0" y="1649.3" text-anchor="middle">6</text>
<text x="2112.5" y="1649.3" text-anchor="middle">7</text>
</g>
<text class="tk"><tspan class="mul" x="1914" y="1793">×</tspan><tspan x="1976" y="1781">10</tspan><tspan class="sup" x="2060.8" y="1743.7">-3</tspan></text>
<text class="lb"><tspan class="cap" x="633.51" y="1751.0" textLength="70.91" lengthAdjust="spacingAndGlyphs">V</tspan><tspan x="695.84" y="1751.0" textLength="262.54" lengthAdjust="spacingAndGlyphs">ertical</tspan><tspan x="960.00" y="1751.0"> </tspan><tspan x="988.13" y="1751.0" textLength="533.74" lengthAdjust="spacingAndGlyphs">displacement</tspan><tspan x="1530.00" y="1751.0"> </tspan><tspan class="br" x="1564.37" y="1757.8" textLength="20.12" lengthAdjust="spacingAndGlyphs">[</tspan><tspan x="1584.87" y="1751.0" textLength="158.26" lengthAdjust="spacingAndGlyphs">mm</tspan><tspan class="br" x="1742.66" y="1757.8" textLength="20.25" lengthAdjust="spacingAndGlyphs">]</tspan></text>
<text class="lb" transform="translate(93 0) rotate(-90)"><tspan class="cap" x="-1162.81" y="0.0" textLength="65.65" lengthAdjust="spacingAndGlyphs">A</tspan><tspan x="-1093.20" y="0.0" textLength="252.55" lengthAdjust="spacingAndGlyphs">pplied</tspan><tspan x="-835.00" y="0.0"> </tspan><tspan x="-805.51" y="0.0" textLength="169.14" lengthAdjust="spacingAndGlyphs">load</tspan><tspan x="-630.00" y="0.0"> </tspan><tspan class="br" x="-596.18" y="6.8" textLength="20.39" lengthAdjust="spacingAndGlyphs">[</tspan><tspan x="-575.99" y="0.0" textLength="49.94" lengthAdjust="spacingAndGlyphs">k</tspan><tspan class="cap" x="-524.43" y="0.0" textLength="70.11" lengthAdjust="spacingAndGlyphs">N</tspan><tspan class="br" x="-452.34" y="6.8" textLength="20.25" lengthAdjust="spacingAndGlyphs">]</tspan></text>
<rect x="335.5" y="123.2" width="819" height="356.3" fill="#fff" stroke="#262626" stroke-width="5.2"/>
<rect x="360" y="167.2" width="251" height="17.6" fill="#0072bd" shape-rendering="crispEdges"/>
<text class="lg"><tspan class="it" x="628.53" y="192.4" textLength="20.41" lengthAdjust="spacingAndGlyphs">l</tspan><tspan class="it sub" x="650.00" y="202.8" textLength="25.11" lengthAdjust="spacingAndGlyphs">o</tspan><tspan x="680.00" y="192.4"> </tspan><tspan x="698.11" y="198.0" textLength="53.72" lengthAdjust="spacingAndGlyphs">=</tspan><tspan x="755.00" y="192.4"> </tspan><tspan x="773.80" y="192.4">0.03</tspan><tspan x="894.10" y="192.4"> </tspan><tspan x="915.91" y="192.4" textLength="113.68" lengthAdjust="spacingAndGlyphs">mm</tspan></text>
<rect x="360" y="250.8" width="251" height="17.6" fill="#d95319" shape-rendering="crispEdges"/>
<text class="lg"><tspan class="it" x="628.53" y="276.0" textLength="20.41" lengthAdjust="spacingAndGlyphs">l</tspan><tspan class="it sub" x="650.00" y="286.4" textLength="25.11" lengthAdjust="spacingAndGlyphs">o</tspan><tspan x="680.00" y="276.0"> </tspan><tspan x="698.11" y="281.6" textLength="53.72" lengthAdjust="spacingAndGlyphs">=</tspan><tspan x="755.00" y="276.0"> </tspan><tspan x="773.80" y="276.0">0.015</tspan><tspan x="927.70" y="276.0"> </tspan><tspan x="949.51" y="276.0" textLength="113.68" lengthAdjust="spacingAndGlyphs">mm</tspan></text>
<rect x="360" y="334.4" width="251" height="17.6" fill="#edb120" shape-rendering="crispEdges"/>
<text class="lg"><tspan class="it" x="628.53" y="359.6" textLength="20.41" lengthAdjust="spacingAndGlyphs">l</tspan><tspan class="it sub" x="650.00" y="370.0" textLength="25.11" lengthAdjust="spacingAndGlyphs">o</tspan><tspan x="680.00" y="359.6"> </tspan><tspan x="698.11" y="365.2" textLength="53.72" lengthAdjust="spacingAndGlyphs">=</tspan><tspan x="755.00" y="359.6"> </tspan><tspan x="773.80" y="359.6">0.0075</tspan><tspan x="961.20" y="359.6"> </tspan><tspan x="983.01" y="359.6" textLength="113.68" lengthAdjust="spacingAndGlyphs">mm</tspan></text>
<rect x="360" y="418.2" width="251" height="17.6" fill="#7e2f8e" shape-rendering="crispEdges"/>
<text class="lg"><tspan class="it" x="628.53" y="443.4" textLength="20.41" lengthAdjust="spacingAndGlyphs">l</tspan><tspan class="it sub" x="650.00" y="453.8" textLength="25.11" lengthAdjust="spacingAndGlyphs">o</tspan><tspan x="680.00" y="443.4"> </tspan><tspan x="698.11" y="449.0" textLength="53.72" lengthAdjust="spacingAndGlyphs">=</tspan><tspan x="755.00" y="443.4"> </tspan><tspan x="773.80" y="443.4">0.00375</tspan><tspan x="995.10" y="443.4"> </tspan><tspan x="1016.91" y="443.4" textLength="113.68" lengthAdjust="spacingAndGlyphs">mm</tspan></text>
</svg></body></html>
